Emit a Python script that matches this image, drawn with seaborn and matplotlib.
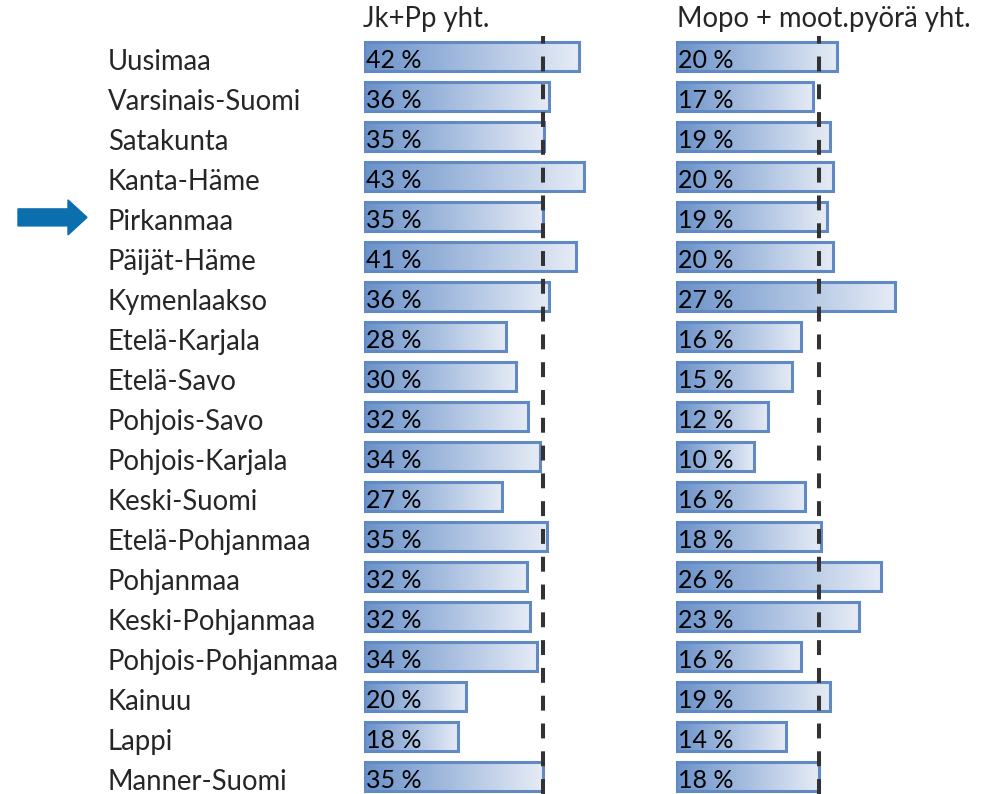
import numpy as np
import pandas as pd
import seaborn as sns
import matplotlib.pyplot as plt
from matplotlib.colors import LinearSegmentedColormap
from matplotlib.patches import FancyArrow
from matplotlib.transforms import blended_transform_factory

# --- data ---
regions = ["Uusimaa", "Varsinais-Suomi", "Satakunta", "Kanta-Häme", "Pirkanmaa",
           "Päijät-Häme", "Kymenlaakso", "Etelä-Karjala", "Etelä-Savo", "Pohjois-Savo",
           "Pohjois-Karjala", "Keski-Suomi", "Etelä-Pohjanmaa", "Pohjanmaa",
           "Keski-Pohjanmaa", "Pohjois-Pohjanmaa", "Kainuu", "Lappi", "Manner-Suomi"]
jkpp = [41.7, 36.0, 35.0, 42.8, 34.7, 41.1, 36.0, 27.6, 29.6, 31.9,
        34.2, 26.8, 35.5, 31.6, 32.3, 33.6, 19.9, 18.3, 34.7]
jkpp_labels = ["42", "36", "35", "43", "35", "41", "36", "28", "30", "32",
               "34", "27", "35", "32", "32", "34", "20", "18", "35"]
mopo = [19.8, 16.9, 18.9, 19.3, 18.6, 19.3, 26.9, 15.4, 14.3, 11.3,
        9.6, 15.9, 17.8, 25.2, 22.5, 15.4, 18.9, 13.5, 17.6]
mopo_labels = ["20", "17", "19", "20", "19", "20", "27", "16", "15", "12",
               "10", "16", "18", "26", "23", "16", "19", "14", "18"]
jkpp_ref = 34.7   # Manner-Suomi
mopo_ref = 17.6
titles = ["Jk+Pp yht.", "Mopo + moot.pyörä yht."]
highlight = "Pirkanmaa"

df = pd.DataFrame({"region": regions, "jkpp": jkpp, "mopo": mopo})

sns.set_theme(style="white")
plt.rcParams['font.family'] = ['Lato', 'DejaVu Sans']
FS = 19.8      # region names and titles
FS_BAR = 18    # values inside bars

W, H = 986, 794
fig = plt.figure(figsize=(W / 100, H / 100), dpi=100)

border = "#6189c4"
cmap = LinearSegmentedColormap.from_list("grad", ["#6a91c9", "#e6ecf6"])
grad = np.linspace(0, 1, 256).reshape(1, -1)

top_px = 56.4 - 20   # first bar centre minus half a row
ybot = (H - 56.4) / 40.0

# (left px, px per %, xmax)
panels = [("jkpp", jkpp_labels, jkpp_ref, 364, 5.15, 50, titles[0], 363),
          ("mopo", mopo_labels, mopo_ref, 675.5, 8.15, 37, titles[1], 677)]

for col, labels, ref, left_px, scale, xmax, title, title_x in panels:
    ax = fig.add_axes([left_px / W, 0, xmax * scale / W, (H - top_px) / H])
    sns.barplot(data=df, x=col, y="region", orient="h", color=border,
                width=0.74, ax=ax)
    for p in list(ax.patches):
        x0, y0, w, h = p.get_x(), p.get_y(), p.get_width(), p.get_height()
        ax.imshow(grad, extent=[x0, x0 + w, y0 + h, y0], cmap=cmap,
                  aspect="auto", zorder=1, interpolation="bilinear")
        p.set_facecolor("none")
        p.set_edgecolor(border)
        p.set_linewidth(2.2)
        p.set_zorder(2)
    for i, lbl in enumerate(labels):
        ax.annotate(f"{lbl} %", (0, i + 0.3), xytext=(1.5, 0),
                    textcoords="offset points", ha="left", va="baseline",
                    fontsize=FS_BAR, color="black", zorder=4)
    ax.axvline(ref, color="#333333", lw=2.9, ls=(0, (3.7, 3.2)), zorder=3)
    ax.set_xlim(0, xmax)
    ax.set_ylim(ybot, -0.5)
    ax.set_axis_off()
    fig.text(title_x / W, 1 - 27 / H, title, fontsize=FS, ha="left",
             va="baseline")
    if col == "jkpp":
        trans = blended_transform_factory(fig.transFigure, ax.transData)
        for i, r in enumerate(regions):
            ax.text(108 / W, i + 0.34, r, transform=trans, fontsize=FS,
                    ha="left", va="baseline", clip_on=False)
        hi = regions.index(highlight)
        y_in = (H - (56.4 + 40 * hi + 1)) / 100
        fig.patches.append(FancyArrow(0.18, y_in, 0.69, 0, width=0.17,
                                      head_width=0.35, head_length=0.19,
                                      length_includes_head=True,
                                      color="#0a6eaf",
                                      transform=fig.dpi_scale_trans))

fig.savefig("out.png", dpi=100)
